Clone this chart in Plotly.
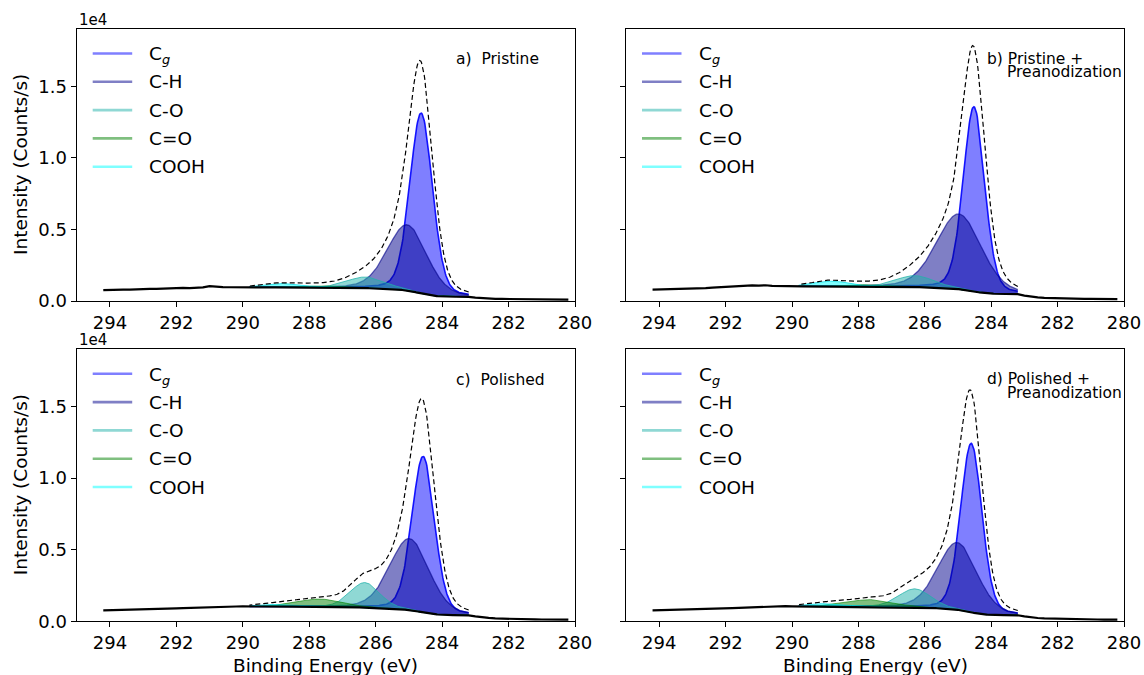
import numpy as np
import plotly.graph_objects as go

W, H = 1144, 675
FONT = "DejaVu Sans"

# ---------------------------------------------------------------- data
components = ["C<sub><i>g</i></sub>", "C-H", "C-O", "C=O", "COOH"]

panel_labels = [
    ["a)  Pristine"],
    ["b) Pristine +", "Preanodization"],
    ["c)  Polished"],
    ["d) Polished +", "Preanodization"],
]

# fitted peak parameters: centre (eV), height above background (counts/s), FWHM (eV)
centers_a = [284.63, 285.05, 286.30, 287.60, 288.75]
heights_a = [12600, 4600, 780, 120, 280]
fwhm_a = [0.80, 1.40, 1.35, 1.30, 1.30]

centers_b = [284.52, 284.97, 286.30, 287.60, 288.80]
heights_b = [12900, 5250, 800, 150, 370]
fwhm_b = [0.76, 1.60, 1.35, 1.30, 1.30]

centers_c = [284.57, 284.98, 286.33, 287.70, 289.00]
heights_c = [10900, 5000, 1750, 550, 150]
fwhm_c = [0.80, 1.40, 1.05, 1.60, 1.20]

centers_d = [284.60, 285.02, 286.30, 287.65, 289.00]
heights_d = [11800, 4700, 1300, 500, 200]
fwhm_d = [0.76, 1.40, 1.15, 1.60, 1.30]

# Gaussian-Lorentzian mixing of the line shape
lorentz_frac = [0.2, 0.2, 0.2, 0.2, 0.2]

# measured spectrum outside the fitted window
raw_left_x = [294.2, 294.0, 293.8, 293.6, 293.4, 293.2, 293.0, 292.8, 292.6, 292.4,
              292.2, 292.0, 291.8, 291.6, 291.4, 291.2, 291.0, 290.8, 290.6, 290.4,
              290.2, 290.0, 289.8]
raw_right_x = [283.2, 283.0, 282.8, 282.6, 282.4, 282.2, 282.0, 281.8, 281.6, 281.4,
               281.2, 281.0, 280.8, 280.6, 280.4, 280.2]

raw_left_a = [760, 790, 770, 800, 790, 820, 830, 850, 840, 870, 880, 900, 910, 900,
              930, 950, 1040, 990, 970, 960, 950, 955, 950]
raw_right_a = [290, 230, 190, 170, 150, 145, 140, 130, 125, 125, 115, 115, 110, 105, 110, 100]

raw_left_b = [800, 810, 790, 820, 830, 840, 860, 880, 900, 930, 960, 1000, 1040, 1080,
              1110, 1090, 1080, 1100, 1060, 1040, 1030, 1020, 1020]
raw_right_b = [480, 380, 300, 250, 220, 200, 190, 180, 170, 160, 150, 145, 140, 135, 130, 125]

raw_left_c = [770, 780, 760, 790, 800, 790, 810, 830, 840, 860, 880, 900, 920, 940,
              960, 980, 1000, 1020, 1030, 1040, 1035, 1040, 1030]
raw_right_c = [420, 350, 280, 240, 200, 180, 165, 150, 140, 135, 130, 125, 120, 120, 115, 115]

raw_left_d = [770, 780, 770, 790, 800, 800, 810, 820, 840, 860, 880, 900, 920, 940,
              960, 980, 1000, 1030, 1070, 1090, 1060, 1045, 1040]
raw_right_d = [420, 340, 270, 230, 200, 185, 170, 155, 145, 140, 135, 130, 125, 120, 120, 115]

x_ticks = [294, 292, 290, 288, 286, 284, 282, 280]
y_ticks = [0, 5000, 10000, 15000]
y_tick_text = ["0.0", "0.5", "1.0", "1.5"]

panels = [
    (centers_a, heights_a, fwhm_a, raw_left_a, raw_right_a),
    (centers_b, heights_b, fwhm_b, raw_left_b, raw_right_b),
    (centers_c, heights_c, fwhm_c, raw_left_c, raw_right_c),
    (centers_d, heights_d, fwhm_d, raw_left_d, raw_right_d),
]

# ---------------------------------------------------------------- styles
fill_colors = ["rgba(0,0,255,0.5)", "rgba(0,0,139,0.5)", "rgba(32,178,170,0.5)",
               "rgba(0,128,0,0.5)", "rgba(0,255,255,0.5)"]
edge_colors = ["rgba(0,0,255,0.9)", "rgba(0,0,139,0.6)", "rgba(32,178,170,0.75)",
               "rgba(0,128,0,0.6)", "rgba(0,220,230,0.75)"]
edge_widths = [1.6, 1.3, 1.0, 1.0, 1.0]
legend_colors = ["rgba(0,0,255,0.5)", "rgba(0,0,139,0.5)", "rgba(32,178,170,0.5)",
                 "rgba(0,128,0,0.5)", "rgba(0,255,255,0.5)"]

# pixel boxes of the four axes (left, top, right, bottom)
boxes = [
    (76.7, 29.0, 575.0, 301.0),
    (626.0, 29.0, 1124.0, 301.0),
    (76.7, 349.3, 575.0, 621.3),
    (626.0, 349.3, 1124.0, 621.3),
]


def px(x):
    return x / W


def py(y):
    return 1 - y / H


def pseudo_voigt(x, c, fwhm, eta):
    hw = fwhm / 2.0
    u = (x - c) / hw
    g = np.exp(-np.log(2) * u ** 2)
    lo = 1.0 / (1.0 + u ** 2)
    return (1 - eta) * g + eta * lo


fit_x = np.linspace(raw_right_x[0], raw_left_x[-1], 331)  # ascending 283.2 -> 289.8

fig = go.Figure()
annotations = []
shapes = []

for i, (cen, hgt, fw, left_y, right_y) in enumerate(panels):
    n = i + 1
    xa = "x" if n == 1 else f"x{n}"
    ya = "y" if n == 1 else f"y{n}"

    comps = [h * pseudo_voigt(fit_x, c, w, e)
             for c, h, w, e in zip(cen, hgt, fw, lorentz_frac)]
    total = np.sum(comps, axis=0)

    # Shirley-type background between the two window end points
    seg = 0.5 * (total[1:] + total[:-1]) * np.diff(fit_x)
    cum = np.concatenate([[0.0], np.cumsum(seg)])
    bg_low, bg_high = right_y[0], left_y[-1]
    bg = bg_low + (bg_high - bg_low) * cum / cum[-1]

    for k, comp in enumerate(comps):
        fig.add_trace(go.Scatter(x=fit_x, y=bg, mode="lines", line=dict(width=0),
                                 xaxis=xa, yaxis=ya, showlegend=False, hoverinfo="skip"))
        fig.add_trace(go.Scatter(x=fit_x, y=bg + comp, mode="lines", fill="tonexty",
                                 fillcolor=fill_colors[k],
                                 line=dict(color=edge_colors[k], width=edge_widths[k]),
                                 xaxis=xa, yaxis=ya, showlegend=False,
                                 name=components[k]))

    # spectrum / background line
    line_x = list(raw_left_x) + list(fit_x[::-1]) + list(raw_right_x)
    line_y = list(left_y) + list(bg[::-1]) + list(right_y)
    fig.add_trace(go.Scatter(x=line_x, y=line_y, mode="lines",
                             line=dict(color="black", width=2.2),
                             xaxis=xa, yaxis=ya, showlegend=False, name="data"))

    # fit envelope
    fig.add_trace(go.Scatter(x=fit_x, y=bg + total, mode="lines",
                             line=dict(color="black", width=1.2, dash="5px,3px"),
                             xaxis=xa, yaxis=ya, showlegend=False, name="envelope"))

    left, top, right, bottom = boxes[i]
    show_y = (i % 2 == 0)
    fig.layout[("xaxis" if n == 1 else f"xaxis{n}")] = dict(
        domain=[px(left), px(right)], anchor=ya, range=[295, 280],
        tickvals=x_ticks, ticktext=[str(v) for v in x_ticks],
        ticks="outside", ticklen=5, tickwidth=1.2, tickcolor="black",
        showline=True, linecolor="black", linewidth=1.3, mirror=True,
        showgrid=False, zeroline=False, automargin=False,
        tickfont=dict(family=FONT, size=18, color="black"))
    fig.layout[("yaxis" if n == 1 else f"yaxis{n}")] = dict(
        domain=[py(bottom), py(top)], anchor=xa, range=[0, 19000],
        tickvals=y_ticks, ticktext=y_tick_text, showticklabels=show_y,
        ticks="outside", ticklen=5, tickwidth=1.2, tickcolor="black",
        showline=True, linecolor="black", linewidth=1.3, mirror=True,
        showgrid=False, zeroline=False, automargin=False,
        tickfont=dict(family=FONT, size=18, color="black"))

    # legend drawn inside each axes
    for k, name in enumerate(components):
        yy = top + 24.5 + 28.3 * k
        shapes.append(dict(type="line", xref="paper", yref="paper",
                           x0=px(left + 16), x1=px(left + 55.5), y0=py(yy), y1=py(yy),
                           line=dict(color=legend_colors[k], width=2.6)))
        annotations.append(dict(text=name, xref="paper", yref="paper",
                                x=px(left + 70.5), y=py(yy + (2 if k == 0 else 0)),
                                xanchor="left", yanchor="middle", showarrow=False,
                                font=dict(family=FONT, size=18.5, color="black")))

    # panel label
    lab = panel_labels[i]
    if len(lab) == 1:
        annotations.append(dict(text=lab[0], xref="paper", yref="paper",
                                x=px(left + 377), y=py(top + 30.5),
                                xanchor="left", yanchor="middle", showarrow=False,
                                font=dict(family=FONT, size=15.5, color="black")))
    else:
        annotations.append(dict(text=lab[0], xref="paper", yref="paper",
                                x=px(left + 358.5), y=py(top + 30),
                                xanchor="left", yanchor="middle", showarrow=False,
                                font=dict(family=FONT, size=15.5, color="black")))
        annotations.append(dict(text=lab[1], xref="paper", yref="paper",
                                x=px(left + 378.5), y=py(top + 43.5),
                                xanchor="left", yanchor="middle", showarrow=False,
                                font=dict(family=FONT, size=15.5, color="black")))

    if show_y:
        annotations.append(dict(text="1e4", xref="paper", yref="paper",
                                x=px(left), y=py(top - 9), xanchor="left", yanchor="middle",
                                showarrow=False,
                                font=dict(family=FONT, size=15, color="black")))
        annotations.append(dict(text="Intensity (Counts/s)", xref="paper", yref="paper",
                                x=px(20), y=py((top + bottom) / 2), textangle=-90,
                                xanchor="center", yanchor="middle", showarrow=False,
                                font=dict(family=FONT, size=18.5, color="black")))
    if i >= 2:
        annotations.append(dict(text="Binding Energy (eV)", xref="paper", yref="paper",
                                x=px((left + right) / 2), y=py(665), xanchor="center",
                                yanchor="middle", showarrow=False,
                                font=dict(family=FONT, size=18.5, color="black")))

fig.update_layout(
    width=W, height=H, margin=dict(l=0, r=0, t=0, b=0),
    paper_bgcolor="white", plot_bgcolor="white",
    showlegend=False, annotations=annotations, shapes=shapes,
    font=dict(family=FONT, color="black"),
)

fig.write_html("out.html", config={"displayModeBar": False})
